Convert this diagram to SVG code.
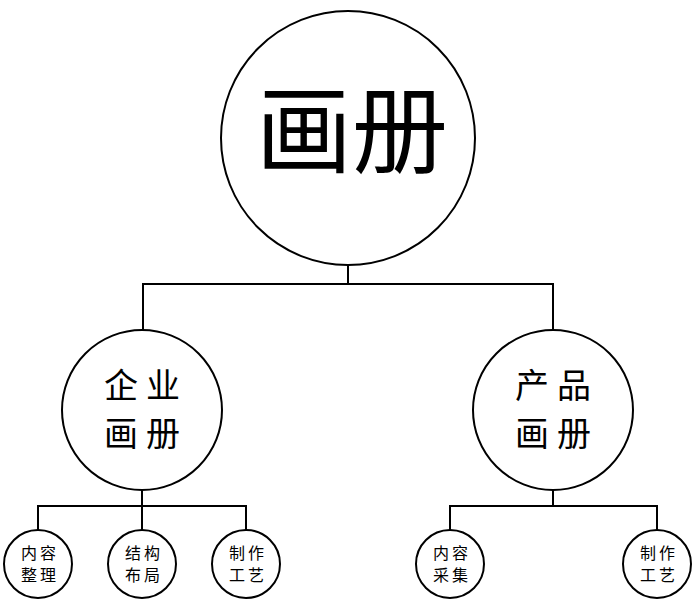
<svg xmlns="http://www.w3.org/2000/svg" width="696" height="604" viewBox="0 0 696 604">
<style>
circle{fill:#fff;stroke:#000;stroke-width:2}
.c line,.c polyline{stroke:#000;stroke-width:2;fill:none}
text{font-family:"Noto Sans CJK SC",sans-serif;fill:#000;text-anchor:middle}
.m{font-size:34px;letter-spacing:8px}
.s{font-size:16px;letter-spacing:3px}
</style>
<rect width="696" height="604" fill="#fff"/>
<g class="c" id="connectors">
<polyline points="348,265 348,284"/>
<polyline points="143,330 143,284 553,284 553,330"/>
<polyline points="142,490 142,506"/>
<polyline points="38,530 38,506 246,506 246,530"/>
<line x1="142" y1="506" x2="142" y2="530"/>
<polyline points="553,490 553,506"/>
<polyline points="450,530 450,506 657,506 657,530"/>
</g>
<g id="root"><circle cx="348" cy="138" r="127"/><text x="352" y="165" font-size="96">画册</text></g>
<g id="n1"><circle cx="142" cy="410" r="80"/><text class="m" x="146" y="398">企业</text><text class="m" x="146" y="446">画册</text></g>
<g id="n2"><circle cx="553" cy="410" r="80"/><text class="m" x="557" y="398">产品</text><text class="m" x="557" y="446">画册</text></g>
<g id="a1"><circle cx="38" cy="564" r="34"/><text class="s" x="40" y="559">内容</text><text class="s" x="40" y="581">整理</text></g>
<g id="a2"><circle cx="142" cy="564" r="34"/><text class="s" x="144" y="559">结构</text><text class="s" x="144" y="581">布局</text></g>
<g id="a3"><circle cx="246" cy="564" r="34"/><text class="s" x="248" y="559">制作</text><text class="s" x="248" y="581">工艺</text></g>
<g id="b1"><circle cx="450" cy="564" r="34"/><text class="s" x="452" y="559">内容</text><text class="s" x="452" y="581">采集</text></g>
<g id="b2"><circle cx="657" cy="564" r="34"/><text class="s" x="659" y="559">制作</text><text class="s" x="659" y="581">工艺</text></g>
</svg>
